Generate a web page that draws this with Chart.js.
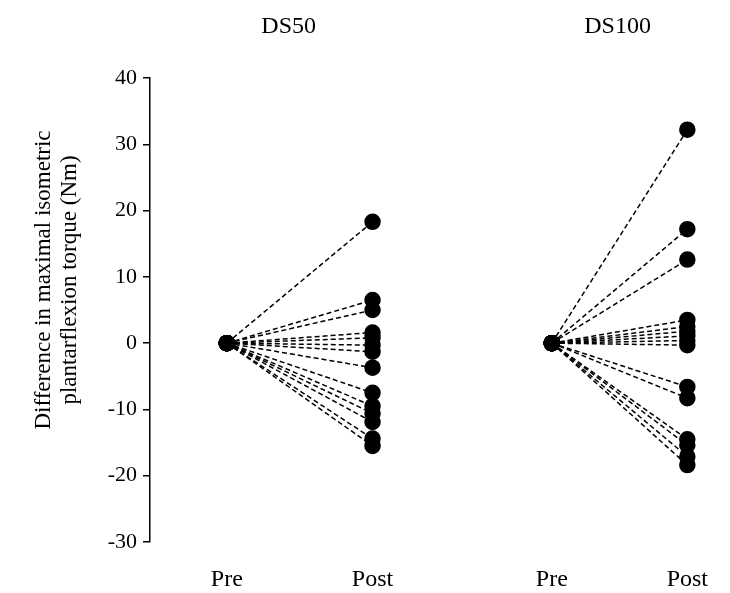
<!DOCTYPE html>
<html>
<head>
<meta charset="utf-8">
<script src="https://cdn.jsdelivr.net/npm/chart.js@4.4.1/dist/chart.umd.min.js"></script>
<style>
  html, body { margin: 0; padding: 0; background: #fff; }
  #wrap { width: 730px; height: 593px; position: relative; }
</style>
</head>
<body>
<div id="wrap"><canvas id="chart"></canvas></div>
<script>
// --- data ---
const groups = ['DS50', 'DS100'];
const tickLabels = ['Pre', 'Post', 'Pre', 'Post'];
const xPos = [1, 2, 3.23, 4.16];   // Pre/Post DS50, Pre/Post DS100

const ds50Pre  = [0, 0, 0, 0, 0, 0, 0, 0, 0, 0, 0, 0, 0, 0];
const ds50Post = [18.3, 6.5, 5.0, 1.6, 0.8, -0.3, -1.3, -3.7, -7.5, -9.5, -10.6, -11.9, -14.4, -15.5];
const ds100Pre  = [0, 0, 0, 0, 0, 0, 0, 0, 0, 0, 0, 0, 0, 0, 0];
const ds100Post = [32.2, 17.2, 12.6, 3.5, 2.5, 1.8, 1.1, 0.4, -0.3, -6.6, -8.3, -14.5, -15.4, -17.1, -18.4];

const yTitle = ['Difference in maximal isometric', 'plantarflexion torque (Nm)'];
const FONT = '"Liberation Serif", "Times New Roman", serif';

// one dashed line per participant
function pairSets(pre, post, x0, x1) {
    return post.map((v, i) => ({
        data: [{ x: x0, y: pre[i] }, { x: x1, y: v }],
        borderColor: '#000',
        borderWidth: 1.5,
        borderDash: [5, 3],
        pointRadius: 7.5,
        pointHoverRadius: 7.5,
        pointBackgroundColor: '#000',
        pointBorderColor: '#000',
        fill: false,
        tension: 0
    }));
}

const datasets = [
    ...pairSets(ds50Pre, ds50Post, xPos[0], xPos[1]),
    ...pairSets(ds100Pre, ds100Post, xPos[2], xPos[3])
];

// titles above each group + rotated y title
const textPlugin = {
    id: 'texts',
    afterDraw(chart) {
        const ctx = chart.ctx;
        const xs = chart.scales.x;
        ctx.save();
        ctx.fillStyle = '#000';
        ctx.font = '24px ' + FONT;
        ctx.textAlign = 'center';
        ctx.textBaseline = 'middle';
        ctx.fillText(groups[0], xs.getPixelForValue((xPos[0] + xPos[1]) / 2) - 11, 27);
        ctx.fillText(groups[1], xs.getPixelForValue((xPos[2] + xPos[3]) / 2) - 2, 27);

        ctx.font = '23px ' + FONT;
        ctx.translate(0, 280);
        ctx.rotate(-Math.PI / 2);
        ctx.fillText(yTitle[0], 0, 44);
        ctx.fillText(yTitle[1], 0, 70);
        ctx.restore();
    }
};

new Chart(document.getElementById('chart'), {
    type: 'line',
    data: { datasets: datasets },
    options: {
        responsive: true,
        maintainAspectRatio: false,
        animation: false,
        clip: false,
        layout: { padding: { top: 78, right: 0, bottom: 0, left: 0 } },
        plugins: {
            legend: { display: false },
            tooltip: { enabled: false }
        },
        scales: {
            x: {
                type: 'linear',
                min: 0.473,
                max: 4.391,
                afterBuildTicks: (axis) => { axis.ticks = xPos.map(v => ({ value: v })); },
                afterFit: (axis) => { axis.height = 51; },
                grid: { display: false },
                border: { display: false },
                ticks: {
                    callback: (v, i) => tickLabels[i],
                    autoSkip: false,
                    maxRotation: 0,
                    color: '#000',
                    font: { family: FONT, size: 24 },
                    padding: 15
                }
            },
            y: {
                min: -30,
                max: 40,
                afterFit: (axis) => { axis.width = 150; },
                grid: {
                    drawOnChartArea: false,
                    drawTicks: true,
                    tickLength: 7,
                    color: '#000',
                    lineWidth: 1.5
                },
                border: { display: true, color: '#000', width: 1.5 },
                ticks: {
                    stepSize: 10,
                    color: '#000',
                    font: { family: FONT, size: 22 },
                    padding: 6
                }
            }
        }
    },
    plugins: [textPlugin]
});
</script>
</body>
</html>
